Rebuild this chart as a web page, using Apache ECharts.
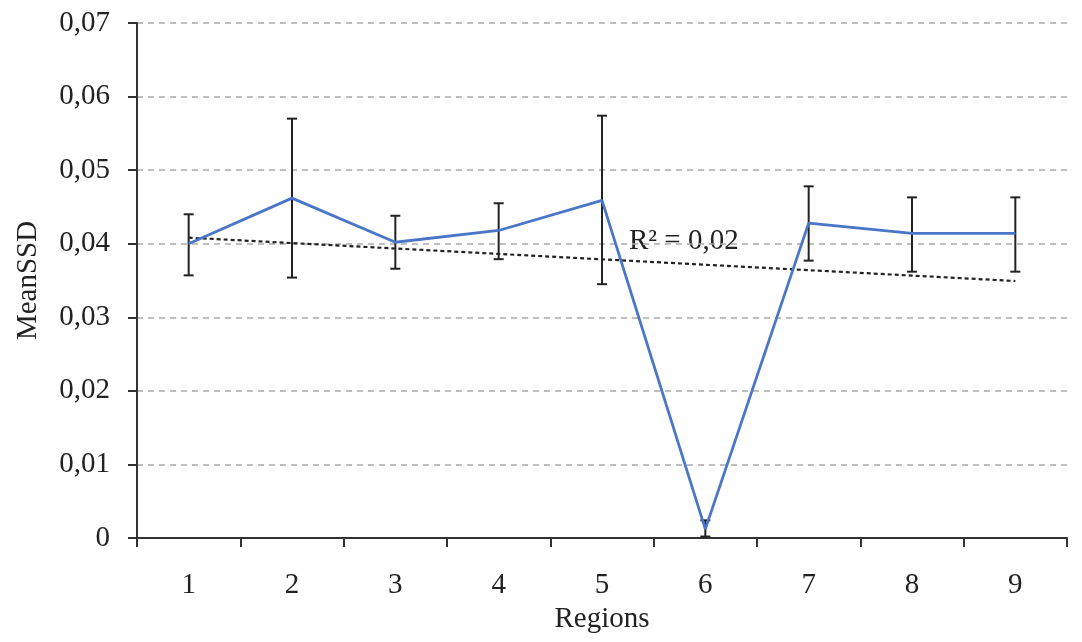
<!DOCTYPE html>
<html>
<head>
<meta charset="utf-8">
<script src="https://cdn.jsdelivr.net/npm/echarts@6/dist/echarts.min.js"></script>
<style>
html,body{margin:0;padding:0;background:#fff;}
#chart{width:1082px;height:642px;}
</style>
</head>
<body>
<div id="chart"></div>
<script>
const regions = ['1','2','3','4','5','6','7','8','9'];
const meanSSD = [0.0400, 0.0462, 0.0402, 0.0418, 0.0459, 0.0012, 0.0428, 0.0414, 0.0414];
const errLow  = [0.0357, 0.0354, 0.0366, 0.0379, 0.0345, 0.0002, 0.0377, 0.0362, 0.0362];
const errHigh = [0.0440, 0.0570, 0.0438, 0.0455, 0.0574, 0.0024, 0.0478, 0.0463, 0.0463];
const yTicks = [0, 0.01, 0.02, 0.03, 0.04, 0.05, 0.06, 0.07];
const r2Text = 'R² = 0,02';

// linear trend line (least squares) derived from the means
const n = meanSSD.length;
const xs = meanSSD.map((_, i) => i + 1);
const mx = xs.reduce((a, b) => a + b, 0) / n;
const my = meanSSD.reduce((a, b) => a + b, 0) / n;
let sxy = 0, sxx = 0;
for (let i = 0; i < n; i++) { sxy += (xs[i] - mx) * (meanSSD[i] - my); sxx += (xs[i] - mx) ** 2; }
const slope = sxy / sxx;
const trend = xs.map(x => my + slope * (x - mx));

const errData = regions.map((r, i) => [i, errLow[i], errHigh[i]]);

const font = 'Liberation Serif';
const fs = 29;
const chart = echarts.init(document.getElementById('chart'));
chart.setOption({
  animation: false,
  backgroundColor: '#fff',
  grid: { left: 137, right: 15, top: 23, bottom: 104 },
  xAxis: {
    type: 'category',
    data: regions,
    boundaryGap: true,
    name: 'Regions',
    nameLocation: 'middle',
    nameGap: 62,
    nameTextStyle: { fontFamily: font, fontSize: fs, color: '#222' },
    axisLine: { lineStyle: { color: '#333', width: 2 } },
    axisTick: { show: true, inside: false, length: 9, alignWithLabel: false, lineStyle: { color: '#333', width: 2 } },
    axisLabel: { fontFamily: font, fontSize: fs, color: '#222', margin: 33 },
    splitLine: { show: false }
  },
  yAxis: {
    type: 'value',
    min: 0,
    max: 0.07,
    interval: 0.01,
    name: 'MeanSSD',
    nameLocation: 'middle',
    nameGap: 94,
    nameTextStyle: { fontFamily: font, fontSize: fs, color: '#222' },
    axisLine: { show: true, lineStyle: { color: '#333', width: 2 } },
    axisTick: { show: true, length: 9, lineStyle: { color: '#333', width: 2 } },
    axisLabel: {
      fontFamily: font, fontSize: fs, color: '#222', margin: 27,
      formatter: v => {
        const t = yTicks.find(k => Math.abs(k - v) < 1e-9);
        const val = t === undefined ? v : t;
        return val === 0 ? '0' : val.toFixed(2).replace('.', ',');
      }
    },
    splitLine: { show: true, lineStyle: { color: '#aaa', type: [6, 5], width: 1.5 } }
  },
  series: [
    {
      name: 'trend',
      type: 'line',
      data: trend,
      symbol: 'none',
      z: 3,
      lineStyle: { color: '#222', width: 2.2, type: [4, 3] },
      silent: true
    },
    {
      name: 'error',
      type: 'custom',
      data: errData,
      z: 4,
      renderItem: (params, api) => {
        const lo = api.coord([api.value(0), api.value(1)]);
        const hi = api.coord([api.value(0), api.value(2)]);
        const hw = 5;
        const style = { stroke: '#222', lineWidth: 2 };
        return {
          type: 'group',
          children: [
            { type: 'line', shape: { x1: lo[0], y1: lo[1], x2: hi[0], y2: hi[1] }, style },
            { type: 'line', shape: { x1: lo[0] - hw, y1: lo[1], x2: lo[0] + hw, y2: lo[1] }, style },
            { type: 'line', shape: { x1: hi[0] - hw, y1: hi[1], x2: hi[0] + hw, y2: hi[1] }, style }
          ]
        };
      }
    },
    {
      name: 'MeanSSD',
      type: 'line',
      data: meanSSD,
      symbol: 'none',
      z: 5,
      lineStyle: { color: '#4a76c8', width: 2.8 }
    }
  ],
  graphic: [
    {
      type: 'text',
      left: 629,
      top: 227,
      style: { text: r2Text, fontFamily: font, fontSize: fs, fill: '#222' }
    }
  ]
});
</script>
</body>
</html>
